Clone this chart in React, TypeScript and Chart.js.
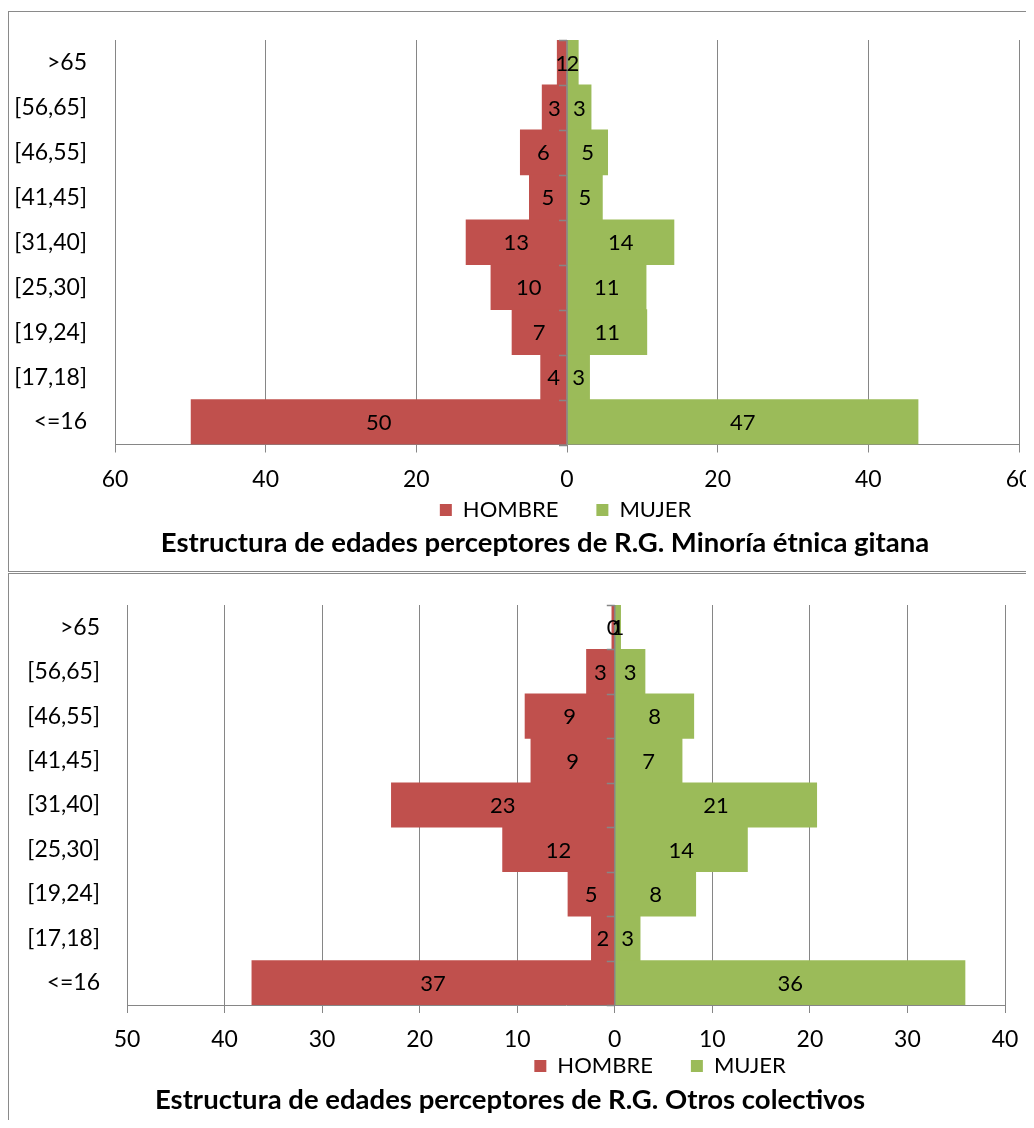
import React, { useEffect, useRef } from 'react';
import { Chart, registerables } from 'chart.js';

Chart.register(...registerables);
Chart.defaults.font.family = 'Lato';

// ---------- data ----------
const AGE_GROUPS = ['>65', '[56,65]', '[46,55]', '[41,45]', '[31,40]', '[25,30]', '[19,24]', '[17,18]', '<=16'];
const SERIES_NAMES = ['HOMBRE', 'MUJER'];

const GITANA_HOMBRE = [1.3, 3.3, 6.2, 5.0, 13.4, 10.1, 7.3, 3.5, 49.9];
const GITANA_MUJER = [1.5, 3.2, 5.4, 4.7, 14.2, 10.5, 10.6, 3.0, 46.6];
const GITANA_AXIS = [-60, 60, 20]; // min, max, step
const GITANA_TITLE = 'Estructura de edades perceptores de R.G. Minoría étnica gitana';

const OTROS_HOMBRE = [0.3, 2.9, 9.2, 8.6, 22.9, 11.5, 4.8, 2.4, 37.2];
const OTROS_MUJER = [0.6, 3.1, 8.1, 6.9, 20.7, 13.6, 8.3, 2.6, 35.9];
const OTROS_AXIS = [-50, 40, 10];
const OTROS_TITLE = 'Estructura de edades perceptores de R.G. Otros colectivos';

// ---------- styles ----------
const RED = '#C0504D';
const GREEN = '#9BBB59';
const GRID = '#868686';
const W = 1026;
const LEGEND_PAD = 38;
const LEGEND_FONT = 22;

const LAYOUT_GITANA = {
  top: 0, height: 564, padTop: 32, padRight: 15, yWidth: 107, yPad: 28,
  xHeight: 52, xPad: 13.7, legendMaxH: 28, legendCenterY: 502,
  titlePadTop: 2, titlePadBottom: 12.5,
  legendDx: -1.5, titleDx: -22,
};
const LAYOUT_OTROS = {
  top: 564, height: 556, padTop: 33, padRight: 29, yWidth: 119, yPad: 27,
  xHeight: 50, xPad: 13.2, legendMaxH: 26.5, legendCenterY: 494,
  titlePadTop: 2, titlePadBottom: 11.5,
  legendDx: 94, titleDx: -56,
};

const pyramidPlugin = {
  id: 'pyramidExtras',
  afterLayout(chart: any, _args: any, opts: any) {
    const lg = chart.legend;
    if (lg) {
      lg.left += opts.legendDx;
      lg.right += opts.legendDx;
      lg.top = opts.legendCenterY - LEGEND_PAD - LEGEND_FONT / 2;
      lg.bottom = lg.top + LEGEND_PAD * 2 + LEGEND_FONT;
      lg.height = lg.bottom - lg.top;
    }
    const tb = chart.titleBlock;
    if (tb) { tb.left += opts.titleDx; tb.right += opts.titleDx; }
  },
  afterDatasetsDraw(chart: any) {
    const ctx = chart.ctx;
    const { top, bottom } = chart.chartArea;
    const x0 = chart.scales.x.getPixelForValue(0);
    ctx.save();
    ctx.strokeStyle = GRID;
    ctx.lineWidth = 1.5;
    ctx.beginPath();
    ctx.moveTo(x0, top);
    ctx.lineTo(x0, bottom);
    const n = chart.data.labels.length;
    for (let k = 0; k <= n; k++) {
      const y = Math.round(top + (k * (bottom - top)) / n) + 0.5;
      ctx.moveTo(x0 - 8, y);
      ctx.lineTo(x0, y);
    }
    ctx.stroke();

    ctx.font = '22px Lato';
    ctx.fillStyle = '#000';
    ctx.textAlign = 'center';
    ctx.textBaseline = 'middle';
    chart.data.datasets.forEach((ds: any, i: number) => {
      const meta = chart.getDatasetMeta(i);
      meta.data.forEach((bar: any, j: number) => {
        const p = bar.getProps(['x', 'y', 'base'], true);
        const v = Math.round(Math.abs(ds.data[j]));
        ctx.fillText(String(v), (p.x + p.base) / 2, p.y + 1);
      });
    });
    ctx.restore();
  },
};

function Pyramid({ hombre, mujer, axis, title, L }: any) {
  const ref = useRef<HTMLCanvasElement>(null);
  useEffect(() => {
    const chart = new Chart(ref.current as HTMLCanvasElement, {
      type: 'bar',
      data: {
        labels: AGE_GROUPS,
        datasets: [
          { label: SERIES_NAMES[0], data: hombre.map((v: number) => -v), backgroundColor: RED, borderWidth: 0, barPercentage: 1, categoryPercentage: 1 },
          { label: SERIES_NAMES[1], data: mujer, backgroundColor: GREEN, borderWidth: 0, barPercentage: 1, categoryPercentage: 1 },
        ],
      },
      options: {
        indexAxis: 'y',
        responsive: false,
        animation: false,
        events: [],
        layout: { padding: { top: L.padTop, right: L.padRight, left: 0, bottom: 0 } },
        scales: {
          x: {
            type: 'linear',
            min: axis[0],
            max: axis[1],
            stacked: true,
            ticks: {
              stepSize: axis[2],
              callback: (v: any) => String(Math.abs(Number(v))),
              color: '#000',
              font: { size: 23 },
              padding: L.xPad,
              maxRotation: 0,
              autoSkip: false,
            },
            grid: { color: GRID, lineWidth: 1, tickLength: 8, drawTicks: true, tickColor: GRID },
            border: { display: true, color: GRID, width: 1 },
            afterFit: (s: any) => { s.height = L.xHeight; s.paddingLeft = 0; s.paddingRight = 0; },
          },
          y: {
            type: 'category',
            stacked: true,
            ticks: { color: '#000', font: { size: 23 }, padding: L.yPad, autoSkip: false },
            grid: { display: false, drawTicks: false },
            border: { display: false },
            afterFit: (s: any) => { s.width = L.yWidth; s.paddingTop = 0; s.paddingBottom = 0; },
          },
        },
        plugins: {
          legend: {
            position: 'bottom',
            fullSize: false,
            maxHeight: L.legendMaxH,
            labels: { boxWidth: 12, boxHeight: 12, padding: LEGEND_PAD, color: '#000', font: { size: LEGEND_FONT } },
          },
          title: {
            display: true,
            text: title,
            position: 'bottom',
            fullSize: false,
            color: '#000',
            font: { size: 27.5, weight: 'bold' },
            padding: { top: L.titlePadTop, bottom: L.titlePadBottom },
          },
          tooltip: { enabled: false },
          pyramidExtras: { legendDx: L.legendDx, titleDx: L.titleDx, legendCenterY: L.legendCenterY },
        } as any,
      },
      plugins: [pyramidPlugin],
    } as any);
    return () => chart.destroy();
  }, []);
  return (
    <canvas
      ref={ref}
      width={W}
      height={L.height}
      style={{ position: 'absolute', left: 0, top: L.top, width: W, height: L.height, display: 'block' }}
    />
  );
}

export default function App() {
  useEffect(() => {
    document.documentElement.style.overflow = 'hidden';
  }, []);
  const box: React.CSSProperties = {
    position: 'absolute',
    left: 0,
    width: 1060,
    boxSizing: 'border-box',
    border: '1px solid #8a8a8a',
  };
  return (
    <div style={{ position: 'relative', width: W, height: 1120, overflow: 'hidden', marginBottom: -8, background: '#fff' }}>
      <div style={{ ...box, top: 3, height: 561 }} />
      <div style={{ ...box, top: 565, height: 600 }} />
      <Pyramid hombre={GITANA_HOMBRE} mujer={GITANA_MUJER} axis={GITANA_AXIS} title={GITANA_TITLE} L={LAYOUT_GITANA} />
      <Pyramid hombre={OTROS_HOMBRE} mujer={OTROS_MUJER} axis={OTROS_AXIS} title={OTROS_TITLE} L={LAYOUT_OTROS} />
    </div>
  );
}
